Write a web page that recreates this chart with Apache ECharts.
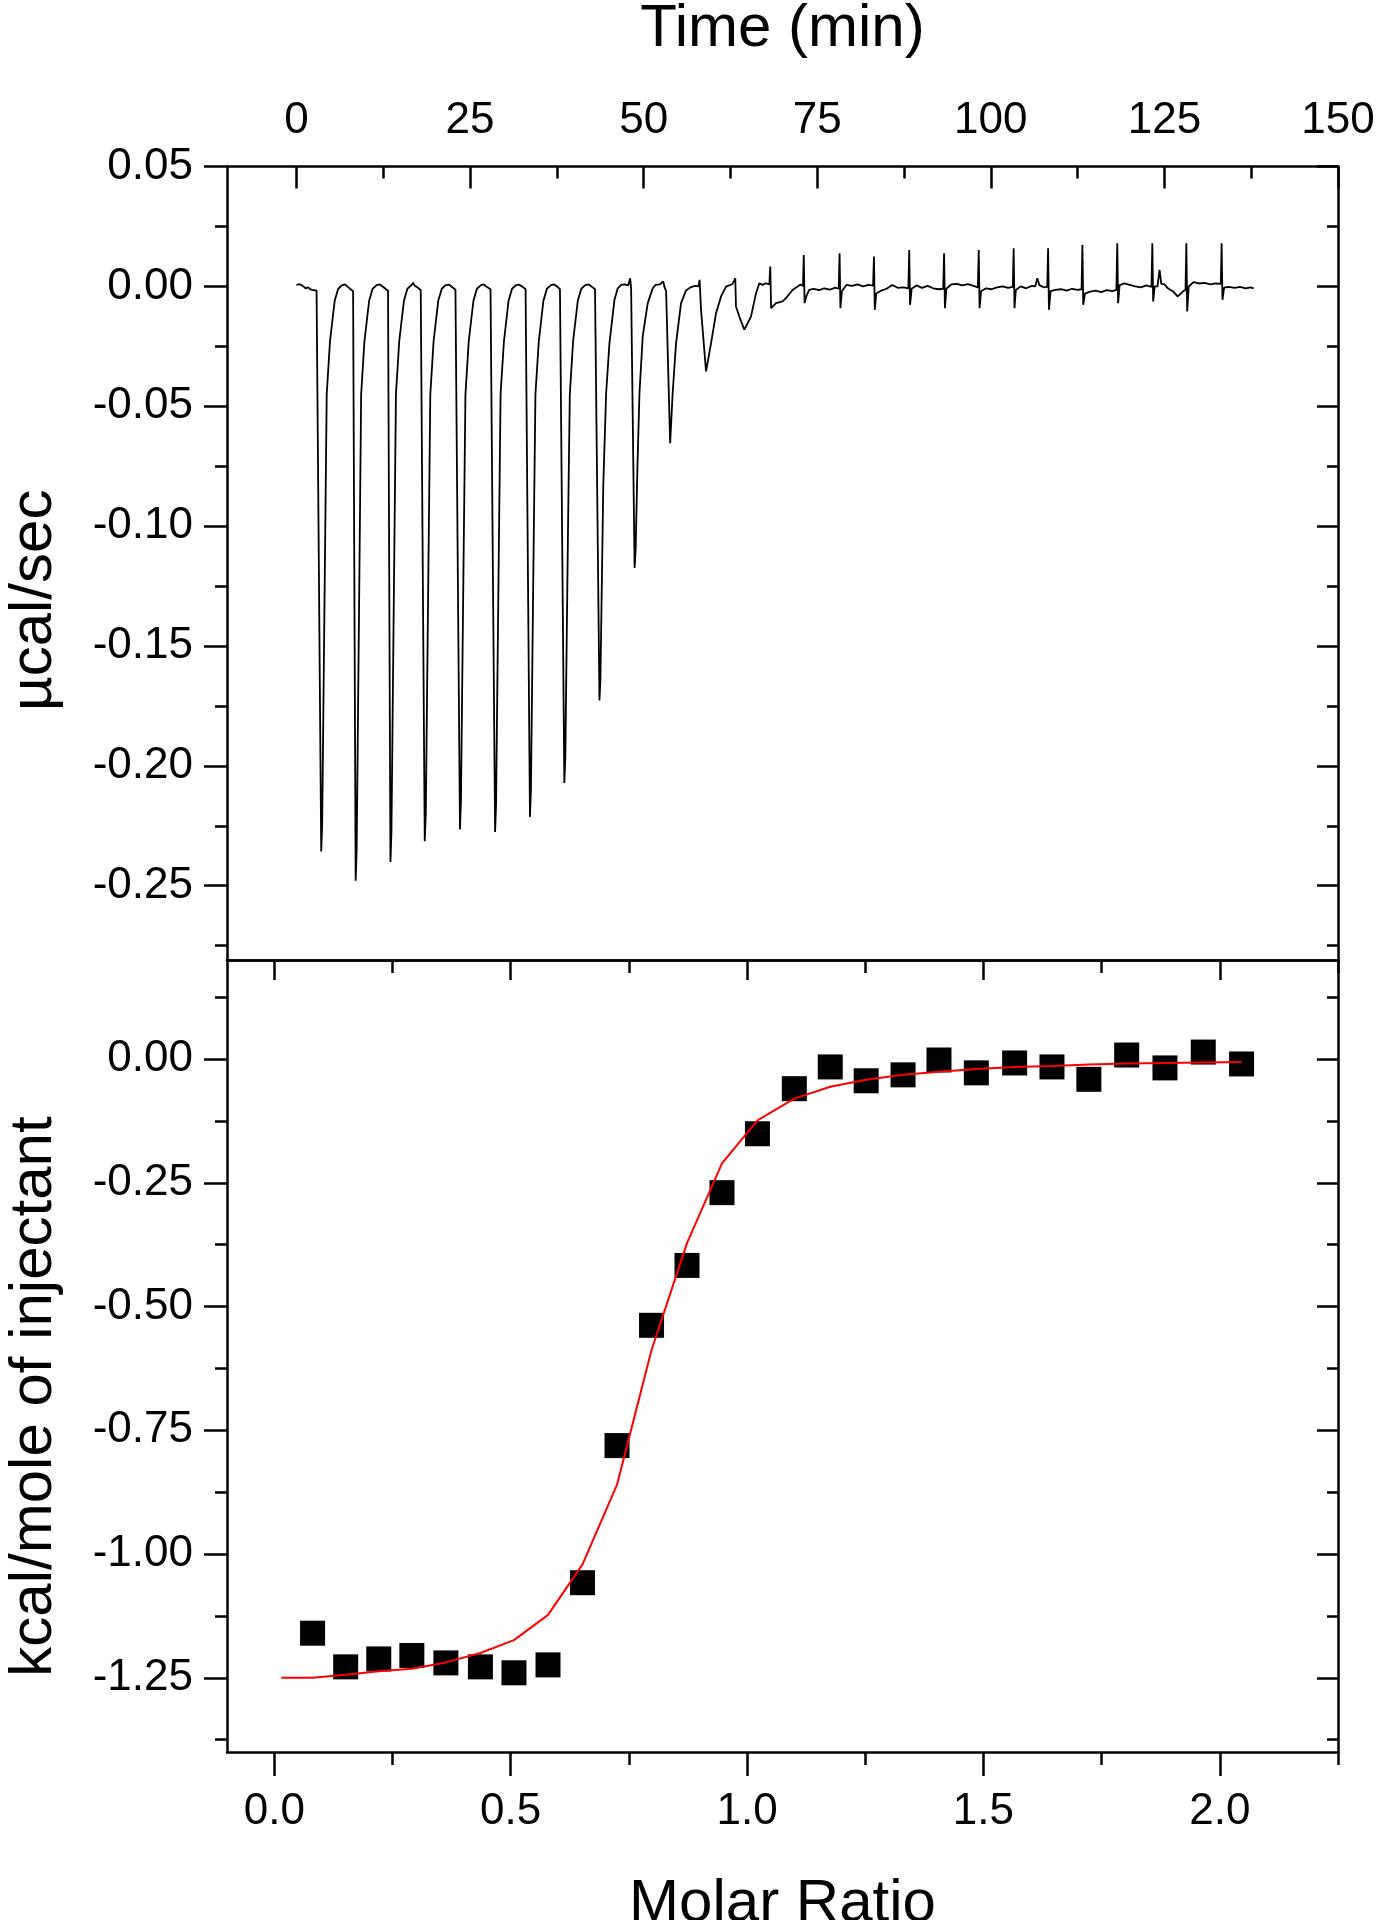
<!DOCTYPE html>
<html>
<head>
<meta charset="utf-8">
<script src="https://cdn.jsdelivr.net/npm/echarts@6/dist/echarts.min.js"></script>
<style>
html,body{margin:0;padding:0;background:#fff;}
#chart{width:1376px;height:1920px;}
</style>
</head>
<body>
<div id="chart"></div>
<script>
// ---------- tick values ----------
const timeTicks = [0, 25, 50, 75, 100, 125, 150];
const timeMinorTicks = [12.5, 37.5, 62.5, 87.5, 112.5, 137.5];
const powerTicks = [0.05, 0, -0.05, -0.1, -0.15, -0.2, -0.25];
const powerMinorTicks = [0.025, -0.025, -0.075, -0.125, -0.175, -0.225, -0.275];
const ratioTicks = [0, 0.5, 1, 1.5, 2];
const ratioMinorTicks = [0.25, 0.75, 1.25, 1.75, 2.25];
const heatTicks = [0, -0.25, -0.5, -0.75, -1, -1.25];
const heatMinorTicks = [0.125, -0.125, -0.375, -0.625, -0.875, -1.125, -1.375];

// ---------- raw thermogram: [time (min), power (µcal/sec)] ----------
const thermogram = [
  [0.00,0.0006],[0.5,0.0009],[0.9,0.0002],[1.3,-0.0008],[1.7,-0.0004],[2.1,-0.0014],[2.5,-0.0016],[2.9,-0.0018],
  [3.12,-0.002],[3.57,-0.2357],[3.71,-0.224],[4.11,-0.113],[4.36,-0.045],[4.83,-0.023],[5.51,-0.006],[6.01,-0.001],[6.59,0.0005],[7.0,0.0008],[7.4,-0.0002],[7.8,-0.0012],
  [8.16,-0.002],[8.53,-0.2479],[8.67,-0.2355],[9.07,-0.119],[9.32,-0.045],[9.79,-0.023],[10.47,-0.006],[10.97,-0.001],[11.55,0.0005],[12.0,0.0008],[12.5,-0.0003],[12.9,-0.0012],
  [13.19,-0.0018],[13.54,-0.2401],[13.68,-0.228],[14.08,-0.115],[14.33,-0.045],[14.8,-0.023],[15.48,-0.006],[15.98,-0.001],[16.56,0.0005],[16.8,0.0015],[17.0,0.0004],[17.5,-0.0006],[17.9,-0.0015],
  [18.15,-0.002],[18.48,-0.2315],[18.63,-0.22],[19.03,-0.111],[19.28,-0.045],[19.75,-0.023],[20.42,-0.006],[20.93,-0.001],[21.5,0.0005],[22.0,0.0007],[22.5,-0.0005],[22.9,-0.0014],
  [23.14,-0.002],[23.55,-0.2266],[23.69,-0.215],[24.09,-0.109],[24.34,-0.045],[24.81,-0.023],[25.49,-0.006],[25.99,-0.001],[26.57,0.0005],[27.0,0.0008],[27.5,-0.0004],[27.95,-0.0012],
  [28.18,-0.002],[28.61,-0.2276],[28.75,-0.216],[29.15,-0.109],[29.4,-0.045],[29.88,-0.023],[30.55,-0.006],[31.05,-0.001],[31.63,0.0005],[32.1,0.0007],[32.6,-0.0003],[33.0,-0.0012],
  [33.21,-0.002],[33.63,-0.2213],[33.77,-0.21],[34.17,-0.106],[34.42,-0.045],[34.9,-0.023],[35.57,-0.006],[36.07,-0.001],[36.65,0.0005],[37.1,0.0008],[37.6,-0.0002],[37.95,-0.0012],
  [38.17,-0.002],[38.58,-0.2072],[38.72,-0.197],[39.12,-0.099],[39.37,-0.045],[39.84,-0.023],[40.52,-0.006],[41.02,-0.001],[41.6,0.0005],[42.1,0.0008],[42.6,-0.0003],[43.0,-0.0012],
  [43.21,-0.002],[43.64,-0.1727],[43.78,-0.164],[44.19,-0.083],[44.6,-0.0446],[45.08,-0.0237],[45.8,-0.0056],[46.27,-0.0008],[46.76,0.0006],[47.3,0.0008],[47.8,0.0004],[48.06,0.0034],
  [48.2,-0.001],[48.7,-0.1175],[48.85,-0.11],[49.11,-0.075],[49.4,-0.0446],[49.87,-0.0209],[50.59,-0.007],[51.31,-0.0008],[51.73,0.0006],[52.3,0.0008],[52.83,0.002],
  [53.0,-0.0002],[53.24,-0.002],[53.82,-0.0654],[54.18,-0.0446],[54.67,-0.0237],[55.39,-0.007],[56.11,-0.0017],[56.83,-0.0003],[57.4,0.0002],[57.9,0.0],
  [58.06,0.0027],[58.27,-0.0098],[58.99,-0.0355],[59.71,-0.0237],[60.43,-0.0112],[61.15,-0.0042],[61.87,-0.0001],[62.81,0.001],
  [63.2,0.0034],[63.3,-0.0084],[63.78,-0.0126],[64.5,-0.0181],[65.46,-0.0126],[66.18,-0.003],[66.66,0.0013],[67.14,0.0006],[67.63,0.0013],[68.1,0.0008],
  [68.24,0.0083],[68.36,-0.0091],[68.57,-0.0085],[69.06,-0.007],[70.01,-0.0063],[70.5,-0.0049],[71.45,-0.0015],[72.17,-0.0001],[72.6,0.0008],[72.95,0.0002],
  [73.06,0.0131],[73.18,-0.007],[73.45,-0.004],[73.84,-0.0015],[74.5,-0.001],[75.3,-0.0016],[76.0,-0.0008],[76.8,-0.0014],[77.6,-0.0005],[78.1,-0.001],
  [78.22,0.0138],[78.34,-0.0091],[78.55,-0.002],[79.2,0.0006],[80.0,0.0002],[80.8,0.0008],[81.6,0.0],[82.4,0.0006],[83.05,0.0003],
  [83.17,0.0124],[83.29,-0.0098],[83.5,-0.003],[84.2,-0.0018],[85.0,-0.001],[85.8,0.0006],[86.6,-0.0006],[87.4,-0.0004],[88.13,-0.0008],
  [88.25,0.0152],[88.37,-0.0077],[88.6,-0.001],[89.3,0.0004],[90.1,-0.0006],[90.9,0.0002],[91.7,-0.0008],[92.5,-0.0012],[93.15,-0.001],
  [93.27,0.0138],[93.39,-0.0091],[93.6,-0.001],[94.3,0.0008],[95.1,0.001],[95.9,0.0004],[96.7,0.0009],[97.5,0.0002],[98.14,-0.0004],
  [98.26,0.0152],[98.38,-0.0091],[98.6,-0.002],[99.3,-0.0008],[100.1,-0.0012],[100.9,-0.0004],[101.7,0.0],[102.5,-0.0006],[103.17,-0.0002],
  [103.29,0.0159],[103.41,-0.0091],[103.6,-0.0015],[104.3,0.0],[105.1,-0.0008],[105.9,0.0002],[106.4,0.0],[106.7,0.0034],[107.0,0.0005],[107.6,-0.0004],[108.13,-0.0002],
  [108.25,0.0159],[108.37,-0.0098],[108.6,-0.002],[109.3,-0.0015],[110.1,-0.0012],[110.9,-0.0018],[111.7,-0.001],[112.5,-0.0015],[113.07,-0.0012],
  [113.19,0.0173],[113.31,-0.0077],[113.55,-0.003],[114.3,-0.0022],[115.1,-0.0018],[115.9,-0.0024],[116.7,-0.0016],[117.5,-0.002],[118.09,-0.0015],
  [118.21,0.018],[118.33,-0.007],[118.55,0.0005],[119.2,0.0012],[120.0,0.0006],[120.8,0.0],[121.6,-0.0004],[122.4,0.0004],[123.14,-0.0002],
  [123.26,0.018],[123.38,-0.0063],[123.6,0.0],[124.0,0.0],[124.3,0.0069],[124.55,0.001],[125.0,0.0008],[125.5,-0.0008],[126.2,-0.002],[126.9,-0.0042],[127.3,-0.0032],[127.7,-0.002],[128.04,-0.0015],
  [128.16,0.018],[128.28,-0.0105],[128.5,0.0],[129.2,0.0018],[130.0,0.0012],[130.8,0.0015],[131.6,0.0008],[132.4,0.0012],[133.12,0.001],
  [133.24,0.018],[133.36,-0.0056],[133.6,-0.0005],[134.3,-0.0002],[135.1,-0.0006],[135.9,-0.0002],[136.7,-0.0008],[137.4,-0.0004],[137.86,-0.0008]
];

// ---------- integrated heats ----------
const molarRatio = [0.081,0.151,0.221,0.291,0.363,0.436,0.507,0.579,0.652,0.725,0.798,0.873,0.947,1.022,1.100,1.176,1.252,1.330,1.406,1.485,1.566,1.645,1.723,1.803,1.884,1.965,2.046];
const heat = [-1.160,-1.228,-1.212,-1.205,-1.220,-1.228,-1.240,-1.224,-1.058,-0.781,-0.538,-0.417,-0.270,-0.151,-0.060,-0.016,-0.044,-0.032,-0.002,-0.028,-0.008,-0.016,-0.041,0.008,-0.018,0.014,-0.010];

// ---------- fitted curve ----------
const fitRatio = [0.015,0.081,0.151,0.221,0.291,0.363,0.436,0.507,0.579,0.652,0.725,0.798,0.873,0.947,1.022,1.100,1.176,1.252,1.330,1.406,1.485,1.566,1.645,1.723,1.803,1.884,1.965,2.046];
const fitHeat = [-1.250,-1.250,-1.244,-1.237,-1.232,-1.219,-1.200,-1.174,-1.123,-1.021,-0.860,-0.588,-0.372,-0.211,-0.124,-0.080,-0.056,-0.042,-0.032,-0.026,-0.020,-0.016,-0.014,-0.011,-0.009,-0.008,-0.007,-0.006];

const FONT = "'Liberation Sans', Arial, Helvetica, sans-serif";
const BLACK = '#000';
const LW = 2.5;

function mkAxis(o) {
  return {
    type: 'value',
    gridIndex: o.grid,
    position: o.pos,
    min: o.min,
    max: o.max,
    axisLine: { show: !!o.line, onZero: false, lineStyle: { color: BLACK, width: LW } },
    axisTick: o.ticks ? { show: true, inside: !!o.inside, length: o.len, customValues: o.ticks, lineStyle: { color: BLACK, width: LW } } : { show: false },
    axisLabel: o.labels ? { show: true, customValues: o.labels, formatter: o.fmt, margin: o.margin, fontSize: 44, color: BLACK, fontFamily: FONT } : { show: false },
    splitLine: { show: false },
    name: o.name || '',
    nameLocation: 'middle',
    nameGap: o.nameGap || 0,
    nameTextStyle: { fontSize: 60, color: BLACK, fontFamily: FONT, padding: o.namePad || 0 }
  };
}

const tMin = -10, tMax = 150, pMin = -0.281, pMax = 0.05;
const rMin = -0.1, rMax = 2.25, hMin = -1.4, hMax = 0.2;

const option = {
  backgroundColor: '#fff',
  animation: false,
  grid: [
    { left: 227, top: 166.5, width: 1111, height: 793.5, containLabel: false, outerBoundsMode: 'none' },
    { left: 227, top: 960, width: 1111, height: 792, containLabel: false, outerBoundsMode: 'none' }
  ],
  xAxis: [
    mkAxis({ grid: 0, pos: 'top', min: tMin, max: tMax, line: true, ticks: timeTicks, inside: true, len: 22,
             labels: timeTicks, fmt: v => String(v), margin: 24, name: 'Time (min)', nameGap: 107 }),
    mkAxis({ grid: 0, pos: 'top', min: tMin, max: tMax, ticks: timeMinorTicks, inside: true, len: 12 }),
    mkAxis({ grid: 0, pos: 'bottom', min: tMin, max: tMax, line: true }),
    mkAxis({ grid: 1, pos: 'bottom', min: rMin, max: rMax, line: true, ticks: ratioTicks, inside: false, len: 24,
             labels: ratioTicks, fmt: v => v.toFixed(1), margin: 38, name: 'Molar Ratio', nameGap: 122 }),
    mkAxis({ grid: 1, pos: 'bottom', min: rMin, max: rMax, ticks: ratioMinorTicks, inside: false, len: 13 }),
    mkAxis({ grid: 1, pos: 'top', min: rMin, max: rMax, line: true, ticks: ratioTicks, inside: true, len: 20 }),
    mkAxis({ grid: 1, pos: 'top', min: rMin, max: rMax, ticks: ratioMinorTicks, inside: true, len: 13 })
  ],
  yAxis: [
    mkAxis({ grid: 0, pos: 'left', min: pMin, max: pMax, line: true, ticks: powerTicks, inside: false, len: 23,
             labels: powerTicks, fmt: v => v.toFixed(2), margin: 34, name: 'µcal/sec', nameGap: 163, namePad: [0, 74, 0, 0] }),
    mkAxis({ grid: 0, pos: 'left', min: pMin, max: pMax, ticks: powerMinorTicks, inside: false, len: 12 }),
    mkAxis({ grid: 0, pos: 'right', min: pMin, max: pMax, line: true, ticks: powerTicks, inside: true, len: 21 }),
    mkAxis({ grid: 0, pos: 'right', min: pMin, max: pMax, ticks: powerMinorTicks, inside: true, len: 11 }),
    mkAxis({ grid: 1, pos: 'left', min: hMin, max: hMax, line: true, ticks: heatTicks, inside: false, len: 23,
             labels: heatTicks, fmt: v => v.toFixed(2), margin: 34, name: 'kcal/mole of injectant', nameGap: 163, namePad: [0, 81, 0, 0] }),
    mkAxis({ grid: 1, pos: 'left', min: hMin, max: hMax, ticks: heatMinorTicks, inside: false, len: 12 }),
    mkAxis({ grid: 1, pos: 'right', min: hMin, max: hMax, line: true, ticks: heatTicks, inside: true, len: 21 }),
    mkAxis({ grid: 1, pos: 'right', min: hMin, max: hMax, ticks: heatMinorTicks, inside: true, len: 11 })
  ],
  series: [
    {
      type: 'line', xAxisIndex: 0, yAxisIndex: 0, data: thermogram,
      showSymbol: false, symbol: 'none', silent: true,
      lineStyle: { color: BLACK, width: 1.8 }
    },
    {
      type: 'scatter', xAxisIndex: 3, yAxisIndex: 4,
      data: molarRatio.map((x, i) => [x, heat[i]]),
      symbol: 'rect', symbolSize: 25, itemStyle: { color: BLACK, opacity: 1 }, z: 2
    },
    {
      type: 'line', xAxisIndex: 3, yAxisIndex: 4,
      data: fitRatio.map((x, i) => [x, fitHeat[i]]),
      showSymbol: false, symbol: 'none', silent: true, z: 3,
      lineStyle: { color: '#ff0000', width: 2 }
    }
  ]
};

const chart = echarts.init(document.getElementById('chart'), null, { renderer: 'canvas' });
chart.setOption(option);
</script>
</body>
</html>
